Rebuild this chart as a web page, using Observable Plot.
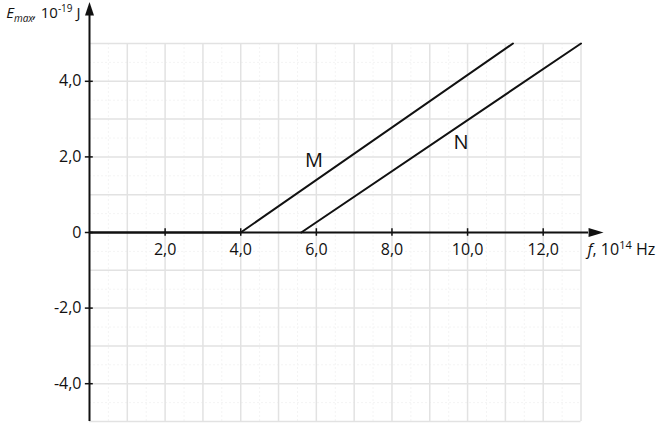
<!DOCTYPE html>
<html>
<head>
<meta charset="utf-8">
<script src="https://cdn.jsdelivr.net/npm/d3@7"></script>
<script src="https://cdn.jsdelivr.net/npm/@observablehq/plot@0.6"></script>
<style>
  html, body { margin: 0; padding: 0; background: #fff; }
  svg { display: block; }
</style>
</head>
<body>
<div id="chart"></div>
<script>
// ---- data ----
const xTicks = [2, 4, 6, 8, 10, 12];
const yTicks = [-4, -2, 0, 2, 4];
const fDomain = [0, 13];
const eDomain = [-5, 5];
const lineM_f = [0, 4, 11.2];
const lineM_E = [0, 0, 5];
const lineN_f = [5.6, 13];
const lineN_E = [0, 5];
const curveNames = ["M", "N"];
const curveLabelF = [5.94, 9.83];
const curveLabelE = [1.9, 2.37];
const xTitle = "f, 10 14 Hz";
const yTitle = "E max, 10 -19 J";

// ---- tables built from arrays ----
const lineM = lineM_f.map((f, i) => ({f, E: lineM_E[i]}));
const lineN = lineN_f.map((f, i) => ({f, E: lineN_E[i]}));
const curveLabels = curveNames.map((name, i) => ({name, f: curveLabelF[i], E: curveLabelE[i]}));
const fmt = d => d === 0 ? "0" : d.toFixed(1).replace(".", ",");

const xArrowBase = 13.2;
const yArrowBase = 5.74;
const arrowRight = {draw(ctx) { ctx.moveTo(15, 0); ctx.lineTo(0, -4.5); ctx.lineTo(0, 4.5); ctx.closePath(); }};
const arrowUp = {draw(ctx) { ctx.moveTo(0, -13.5); ctx.lineTo(-4.5, 0); ctx.lineTo(4.5, 0); ctx.closePath(); }};

const chart = Plot.plot({
  width: 658,
  height: 423,
  marginLeft: 89,
  marginRight: 77.5,
  marginTop: 43,
  marginBottom: 2,
  x: {domain: fDomain, axis: null},
  y: {domain: eDomain, axis: null},
  style: {fontFamily: "'Open Sans', sans-serif", fontSize: "16px", background: "#fff", overflow: "visible", color: "#111"},
  marks: [
    // minor grid
    Plot.ruleX(d3.range(0.5, 13, 1), {y1: -5, y2: 5, stroke: "#f4f4f4", strokeWidth: 1, strokeDasharray: "2,2"}),
    Plot.ruleY(d3.range(-4.5, 5, 1), {x1: 0, x2: 13, stroke: "#f4f4f4", strokeWidth: 1, strokeDasharray: "2,2"}),
    // major grid
    Plot.ruleX(d3.range(1, 14), {y1: -5, y2: 5, stroke: "#e2e2e2", strokeWidth: 1.5}),
    Plot.ruleY(d3.range(-5, 6), {x1: 0, x2: 13, stroke: "#e2e2e2", strokeWidth: 1.5}),
    // axes
    Plot.ruleY([0], {x1: 0, x2: xArrowBase, stroke: "#111", strokeWidth: 2}),
    Plot.ruleX([0], {y1: -5, y2: yArrowBase, stroke: "#111", strokeWidth: 2}),
    Plot.dot([{f: xArrowBase, E: 0}], {x: "f", y: "E", symbol: arrowRight, fill: "#111", stroke: "none", r: 5}),
    Plot.dot([{f: 0, E: yArrowBase}], {x: "f", y: "E", symbol: arrowUp, fill: "#111", stroke: "none", r: 5}),
    // ticks
    Plot.ruleX(xTicks, {x: d => d, y1: -0.1, y2: 0.1, stroke: "#111", strokeWidth: 1.5}),
    Plot.ruleY(yTicks, {y: d => d, x1: -0.11, x2: 0.1, stroke: "#111", strokeWidth: 1.5}),
    // tick labels
    Plot.text(xTicks, {x: d => d, y: 0, dy: 17, text: fmt, fontSize: 16, fill: "#111"}),
    Plot.text(yTicks, {x: 0, y: d => d, dx: -8, textAnchor: "end", text: fmt, fontSize: 16, fill: "#111"}),
    // lines
    Plot.line(lineM, {x: "f", y: "E", stroke: "#111", strokeWidth: 2}),
    Plot.line(lineN, {x: "f", y: "E", stroke: "#111", strokeWidth: 2}),
    // curve labels
    Plot.text(curveLabels, {x: "f", y: "E", text: "name", fontSize: 20, fill: "#111"}),
    // axis titles
    Plot.text([xTitle], {x: xArrowBase, y: 0, dx: -1, dy: 17, textAnchor: "start", text: d => d, fontSize: 16, fill: "#111"}),
    Plot.text([yTitle], {x: 0, y: yArrowBase, dx: -9, dy: -2, textAnchor: "end", text: d => d, fontSize: 15, fill: "#111"})
  ]
});

document.getElementById("chart").append(chart);

// rich formatting of axis titles (italic, sub/superscripts)
const svg = d3.select(chart);
function rich(content, parts) {
  svg.selectAll("text").filter(function() { return this.textContent === content; }).each(function() {
    const t = d3.select(this);
    t.text(null);
    for (const p of parts) {
      const s = t.append("tspan").text(p.t);
      if (p.italic) s.attr("font-style", "italic");
      if (p.size) s.attr("font-size", p.size);
      if (p.dy) s.attr("dy", p.dy);
    }
  });
}
rich(xTitle, [
  {t: "f", italic: true},
  {t: ", 10"},
  {t: "14", size: 11, dy: -6},
  {t: " Hz", dy: 6}
]);
rich(yTitle, [
  {t: "E", italic: true},
  {t: "max", italic: true, size: 10, dy: 4},
  {t: ",", italic: true, dy: -4},
  {t: " 10"},
  {t: "-19", size: 10, dy: -6},
  {t: " J", dy: 6}
]);
</script>
</body>
</html>
